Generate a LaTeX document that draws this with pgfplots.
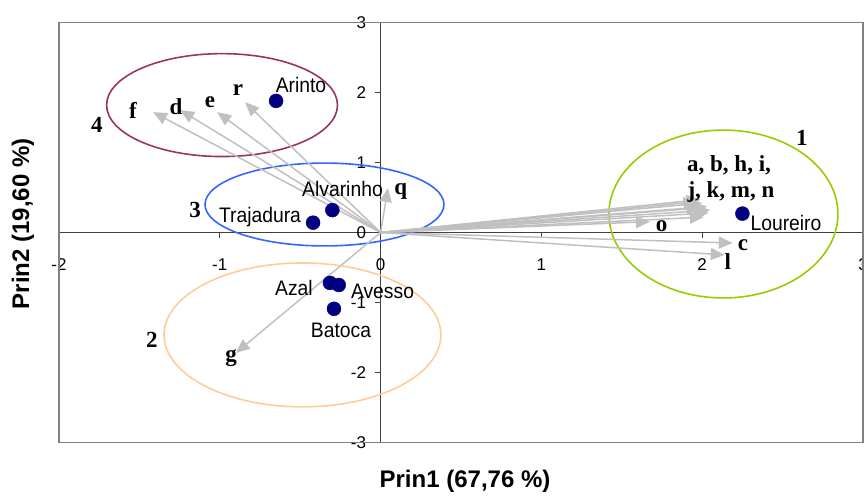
\documentclass[border=0pt]{standalone}
\usepackage{fontspec}
\setmainfont{Liberation Sans}
\newfontfamily\serifb{Liberation Serif}
\newfontfamily\narrow[FakeStretch=0.92]{Liberation Sans}
\usepackage{pgfplots}
\pgfplotsset{compat=1.18}
\usepackage{pgfplotstable}
\usetikzlibrary{arrows.meta}
\definecolor{navy}{HTML}{000080}
\definecolor{arrowgray}{HTML}{C0C0C0}
\definecolor{plum}{HTML}{993366}
\definecolor{cblue}{HTML}{3366FF}
\definecolor{corange}{HTML}{FFCC99}
\definecolor{cgreen}{HTML}{99CC00}

\pgfplotstableread{
name u v
a 2.05 0.32
b 1.99 0.47
h 2.00 0.42
i 2.03 0.37
j 2.01 0.22
k 1.97 0.44
m 2.04 0.28
n 1.99 0.35
o 1.675 0.155
c 2.19 -0.15
l 2.14 -0.32
d -1.246 1.75
e -1.016 1.72
f -1.415 1.72
r -0.843 1.86
q 0.046 0.635
g -0.90 -1.72
}\loadings

\pgfplotstableread{
name x y
Arinto -0.65 1.88
Alvarinho -0.30 0.32
Trajadura -0.42 0.14
Azal -0.315 -0.72
Avesso -0.26 -0.75
Batoca -0.29 -1.09
Loureiro 2.25 0.27
}\scores

\begin{document}
\begin{tikzpicture}
\useasboundingbox (0,0) rectangle (864pt,495pt);
\begin{axis}[
 at={(59pt,52.5pt)}, anchor=south west,
 scale only axis, width=804pt, height=420pt,
 xmin=-2, xmax=3, ymin=-3, ymax=3,
 axis lines=middle,
 axis line style={-, black!75, line width=1pt},
 xtick={-2,...,3}, ytick={-3,...,3},
 hide obscured x ticks=false, hide obscured y ticks=false,
 tick align=outside, major tick length=6pt,
 tick style={black!75, line width=1pt},
 /pgf/number format/assume math mode=true,
 tick label style={font=\fontsize{17}{20}\selectfont},
 xticklabel style={anchor=north, yshift=-16.5pt},
 yticklabel style={anchor=east, xshift=-5pt},
 clip=false,
]
\draw[gray, line width=1.5pt] (rel axis cs:0,0) rectangle (rel axis cs:1,1);

\draw[plum, line width=1.6pt] (axis cs:-0.986,1.82) ellipse [x radius=0.718, y radius=0.735];
\draw[cblue, line width=1.6pt] (axis cs:-0.349,0.40) ellipse [x radius=0.743, y radius=0.592];
\draw[corange, line width=1.6pt] (axis cs:-0.486,-1.463) ellipse [x radius=0.861, y radius=1.028];
\draw[cgreen, line width=1.6pt] (axis cs:2.132,0.264) ellipse [x radius=0.712, y radius=1.199];

\addplot[draw=arrowgray, line width=1.5pt,
  quiver={u=\thisrow{u}, v=\thisrow{v},
    every arrow/.append style={-{Triangle[length=14pt,width=12pt]}}}]
  table[x expr=0, y expr=0] {\loadings};

\addplot[only marks, mark=*, mark size=7pt, mark options={fill=navy, draw=navy}]
  table[x=x, y=y] {\scores};

\begin{scope}[every node/.style={font=\narrow\fontsize{21}{24}\selectfont}]
\node at (axis cs:-0.495,2.105) {Arinto};
\node at (axis cs:-0.237,0.621) {Alvarinho};
\node at (axis cs:-0.75,0.225) {Trajadura};
\node at (axis cs:-0.539,-0.788) {Azal};
\node at (axis cs:0.012,-0.845) {Avesso};
\node at (axis cs:-0.246,-1.401) {Batoca};
\node at (axis cs:2.521,0.131) {Loureiro};
\end{scope}

\begin{scope}[every node/.style={font=\serifb\bfseries\fontsize{23}{26}\selectfont}]
\node at (axis cs:2.620,1.349) {1};
\node at (axis cs:-1.422,-1.534) {2};
\node at (axis cs:-1.154,0.321) {3};
\node at (axis cs:-1.764,1.534) {4};
\node at (axis cs:-1.540,1.748) {f};
\node at (axis cs:-1.272,1.791) {d};
\node at (axis cs:-1.061,1.862) {e};
\node at (axis cs:-0.887,2.034) {r};
\node at (axis cs:0.125,0.582) {q};
\node at (axis cs:-0.930,-1.791) {g};
\node at (axis cs:1.748,0.083) {o};
\node at (axis cs:2.254,-0.178) {c};
\node at (axis cs:2.160,-0.417) {l};
\node at (axis cs:2.167,0.963) {a, b, h, i,};
\node at (axis cs:2.179,0.582) {j, k, m, n};
\end{scope}

\node[yshift=-39pt, font=\bfseries\fontsize{24}{27}\selectfont] at (rel axis cs:0.505,0) {Prin1 (67,76 \%)};
\node[xshift=-36pt, rotate=90, font=\bfseries\fontsize{24}{27}\selectfont] at (rel axis cs:0,0.521) {Prin2 (19,60 \%)};
\end{axis}
\end{tikzpicture}
\end{document}
